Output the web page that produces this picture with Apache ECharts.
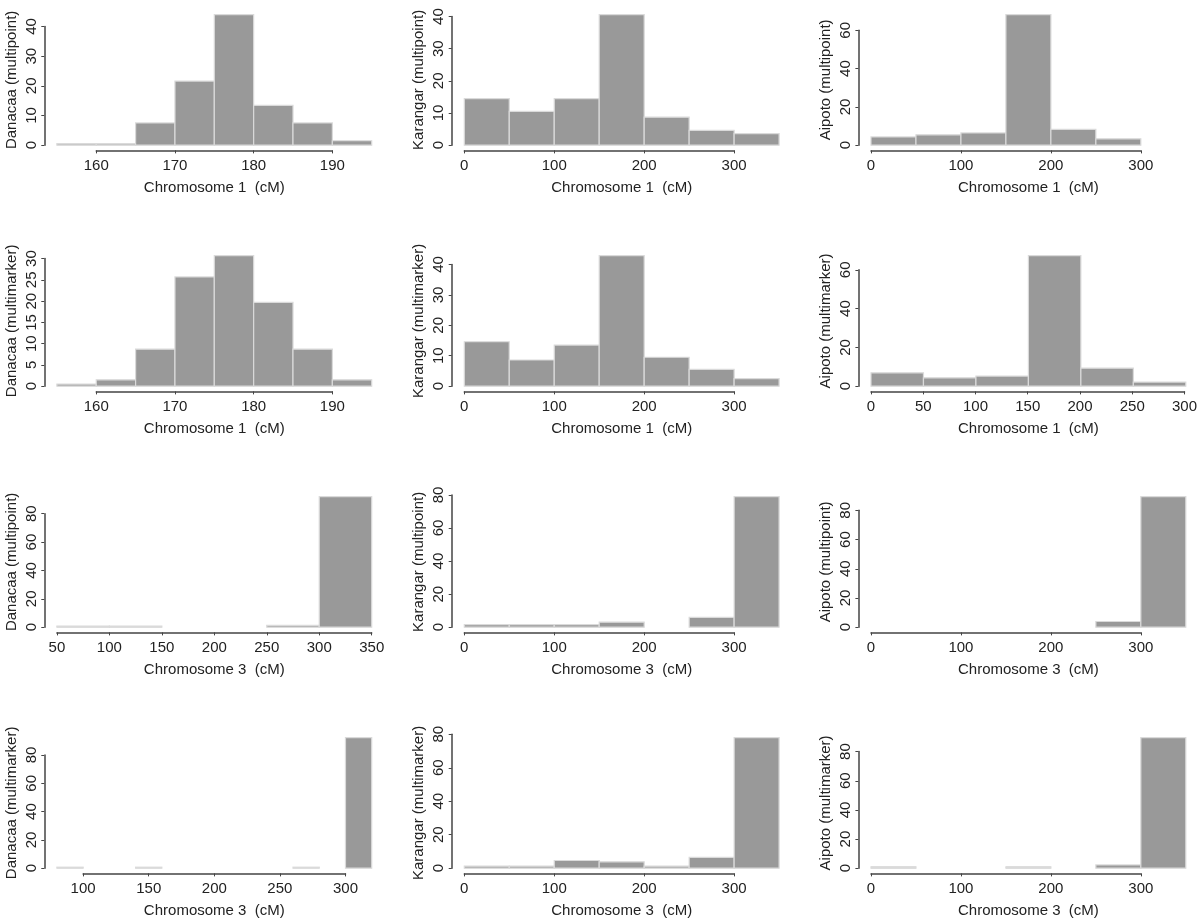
<!DOCTYPE html>
<html>
<head>
<meta charset="utf-8">
<script src="https://cdn.jsdelivr.net/npm/echarts@6/dist/echarts.min.js"></script>
<style>
html,body{margin:0;padding:0;background:#fff;}
#chart{width:1200px;height:920px;}
</style>
</head>
<body>
<div id="chart"></div>
<script>
// ---- bin edges (cM) ----
const chr1DanacaaEdges = [155, 160, 165, 170, 175, 180, 185, 190, 195];
const chr1Edges = [0, 50, 100, 150, 200, 250, 300, 350];
const chr1AipotoMarkerEdges = [0, 50, 100, 150, 200, 250, 300];
const chr3Edges = [0, 50, 100, 150, 200, 250, 300, 350];
const chr3DanacaaPointEdges = [50, 100, 150, 200, 250, 300, 350];
const chr3DanacaaMarkerEdges = [80, 100, 120, 140, 160, 180, 200, 220, 240, 260, 280, 300, 320];

// ---- bar heights ----
const danacaaPointChr1 = [0.5, 0.5, 7.5, 21.6, 44, 13.4, 7.5, 1.5];
const karangarPointChr1 = [14.5, 10.5, 14.5, 40.6, 8.7, 4.6, 3.6];
const aipotoPointChr1 = [4.3, 5.4, 6.4, 68.2, 8.3, 3.3, 0];
const danacaaMarkerChr1 = [0.5, 1.5, 8.7, 25.7, 30.7, 19.7, 8.7, 1.5];
const karangarMarkerChr1 = [14.6, 8.6, 13.5, 42.9, 9.5, 5.5, 2.5];
const aipotoMarkerChr1 = [6.9, 4.3, 5.2, 67.3, 9.3, 2.1];
const danacaaPointChr3 = [0.7, 0.7, 0, 0, 1.3, 92];
const karangarPointChr3 = [1.5, 1.5, 1.5, 3.0, 0, 5.9, 79];
const aipotoPointChr3 = [0, 0, 0, 0, 0, 3.9, 89.4];
const danacaaMarkerChr3 = [0.7, 0, 0, 0.7, 0, 0, 0, 0, 0, 0.7, 0, 92.3];
const karangarMarkerChr3 = [1.2, 1.2, 4.6, 3.8, 1.2, 6.5, 78];
const aipotoMarkerChr3 = [0.9, 0, 0, 0.9, 0, 2.2, 89.6];

// ---- tick labels ----
const xTicks160to190 = [160, 170, 180, 190];
const xTicks0to300 = [0, 100, 200, 300];
const xTicks0to300by50 = [0, 50, 100, 150, 200, 250, 300];
const xTicks50to350 = [50, 100, 150, 200, 250, 300, 350];
const xTicks100to300 = [100, 150, 200, 250, 300];
const yTicks0to40 = [0, 10, 20, 30, 40];
const yTicks0to60 = [0, 20, 40, 60];
const yTicks0to30 = [0, 5, 10, 15, 20, 25, 30];
const yTicks0to80 = [0, 20, 40, 60, 80];

// ---- axis titles ----
const chr1Title = 'Chromosome 1  (cM)';
const chr3Title = 'Chromosome 3  (cM)';

const panels = [
  {yName: 'Danacaa (multipoint)', xName: chr1Title, edges: chr1DanacaaEdges, counts: danacaaPointChr1, xt: xTicks160to190, yt: yTicks0to40},
  {yName: 'Karangar (multipoint)', xName: chr1Title, edges: chr1Edges, counts: karangarPointChr1, xt: xTicks0to300, yt: yTicks0to40},
  {yName: 'Aipoto (multipoint)', xName: chr1Title, edges: chr1Edges, counts: aipotoPointChr1, xt: xTicks0to300, yt: yTicks0to60},
  {yName: 'Danacaa (multimarker)', xName: chr1Title, edges: chr1DanacaaEdges, counts: danacaaMarkerChr1, xt: xTicks160to190, yt: yTicks0to30},
  {yName: 'Karangar (multimarker)', xName: chr1Title, edges: chr1Edges, counts: karangarMarkerChr1, xt: xTicks0to300, yt: yTicks0to40},
  {yName: 'Aipoto (multimarker)', xName: chr1Title, edges: chr1AipotoMarkerEdges, counts: aipotoMarkerChr1, xt: xTicks0to300by50, yt: yTicks0to60},
  {yName: 'Danacaa (multipoint)', xName: chr3Title, edges: chr3DanacaaPointEdges, counts: danacaaPointChr3, xt: xTicks50to350, yt: yTicks0to80},
  {yName: 'Karangar (multipoint)', xName: chr3Title, edges: chr3Edges, counts: karangarPointChr3, xt: xTicks0to300, yt: yTicks0to80},
  {yName: 'Aipoto (multipoint)', xName: chr3Title, edges: chr3Edges, counts: aipotoPointChr3, xt: xTicks0to300, yt: yTicks0to80},
  {yName: 'Danacaa (multimarker)', xName: chr3Title, edges: chr3DanacaaMarkerEdges, counts: danacaaMarkerChr3, xt: xTicks100to300, yt: yTicks0to80},
  {yName: 'Karangar (multimarker)', xName: chr3Title, edges: chr3Edges, counts: karangarMarkerChr3, xt: xTicks0to300, yt: yTicks0to80},
  {yName: 'Aipoto (multimarker)', xName: chr3Title, edges: chr3Edges, counts: aipotoMarkerChr3, xt: xTicks0to300, yt: yTicks0to80}
];

// ---- layout (R-style plot regions) ----
const colLeft = [44.3, 451.7, 858.4];
const plotW = 340;
const rowTop = [9.4, 250.4, 491.4, 732.4];
const plotH = 141;

const FONT = "'Liberation Sans', Arial, sans-serif";
const FS = 15;
const TEXT = '#222222';
const AXIS = '#444444';

const grids = [], xAxes = [], yAxes = [], series = [];

panels.forEach((p, i) => {
  const r = Math.floor(i / 3), c = i % 3;
  const L = colLeft[c], T = rowTop[r], B = T + plotH;
  const xmin = p.edges[0], xmax = p.edges[p.edges.length - 1];
  const u0 = xmin - 0.04 * (xmax - xmin), u1 = xmax + 0.04 * (xmax - xmin);
  const M = Math.max.apply(null, p.counts);
  const v0 = -0.04 * M, v1 = 1.04 * M;
  const px = x => L + (x - u0) / (u1 - u0) * plotW;
  const py = y => B - (y - v0) / (v1 - v0) * plotH;
  const xt0 = p.xt[0], xt1 = p.xt[p.xt.length - 1];
  const yt1 = p.yt[p.yt.length - 1];

  // grid A: full plot region (data + titles)
  grids.push({left: L, top: T, width: plotW, height: plotH, containLabel: false});
  // grid B: tick span (visible axes)
  const gbL = px(xt0), gbR = px(xt1), gbT = py(yt1), gbB = py(0);
  grids.push({left: gbL, top: gbT, width: gbR - gbL, height: gbB - gbT, containLabel: false});

  const gA = 2 * i, gB = 2 * i + 1;
  const hidden = {
    axisLine: {show: false}, axisTick: {show: false}, axisLabel: {show: false}, splitLine: {show: false}
  };
  xAxes.push(Object.assign({
    gridIndex: gA, type: 'value', min: u0, max: u1,
    name: p.xName, nameLocation: 'middle', nameGap: 30,
    nameTextStyle: {fontFamily: FONT, fontSize: FS, color: TEXT}
  }, hidden));
  yAxes.push(Object.assign({
    gridIndex: gA, type: 'value', min: v0, max: v1,
    name: p.yName, nameLocation: 'middle', nameGap: 25,
    nameTextStyle: {fontFamily: FONT, fontSize: FS, color: TEXT}
  }, hidden));

  xAxes.push({
    gridIndex: gB, type: 'value', position: 'bottom',
    min: xt0, max: xt1, interval: p.xt[1] - p.xt[0],
    offset: B - gbB,
    axisLine: {show: true, onZero: false, lineStyle: {color: AXIS, width: 1.5}},
    axisTick: {show: true, length: 3, lineStyle: {color: AXIS, width: 1}},
    axisLabel: {fontFamily: FONT, fontSize: FS, color: TEXT, margin: 8},
    splitLine: {show: false}
  });
  yAxes.push({
    gridIndex: gB, type: 'value', position: 'left',
    min: 0, max: yt1, interval: p.yt[1] - p.yt[0],
    offset: gbL - L,
    axisLine: {show: true, onZero: false, lineStyle: {color: AXIS, width: 1.5}},
    axisTick: {show: true, length: 3, lineStyle: {color: AXIS, width: 1}},
    axisLabel: {fontFamily: FONT, fontSize: FS, color: TEXT, margin: 5, rotate: 90},
    splitLine: {show: false}
  });

  const data = p.counts.map((v, k) => [p.edges[k], p.edges[k + 1], v]);
  series.push({
    type: 'custom',
    xAxisIndex: gA, yAxisIndex: gA,
    clip: false,
    silent: true,
    encode: {x: [0, 1], y: 2},
    data: data,
    renderItem: function (params, api) {
      const a = api.value(0), b = api.value(1), v = api.value(2);
      if (!v) return null;
      const p0 = api.coord([a, 0]);
      const p1 = api.coord([b, v]);
      return {
        type: 'rect',
        shape: {x: p0[0], y: p1[1], width: p1[0] - p0[0], height: p0[1] - p1[1]},
        style: {fill: '#999999', stroke: '#dadada', lineWidth: 1.2}
      };
    }
  });
});

const chart = echarts.init(document.getElementById('chart'), null, {renderer: 'canvas'});
chart.setOption({
  animation: false,
  backgroundColor: '#ffffff',
  grid: grids,
  xAxis: xAxes,
  yAxis: yAxes,
  series: series
});
</script>
</body>
</html>
